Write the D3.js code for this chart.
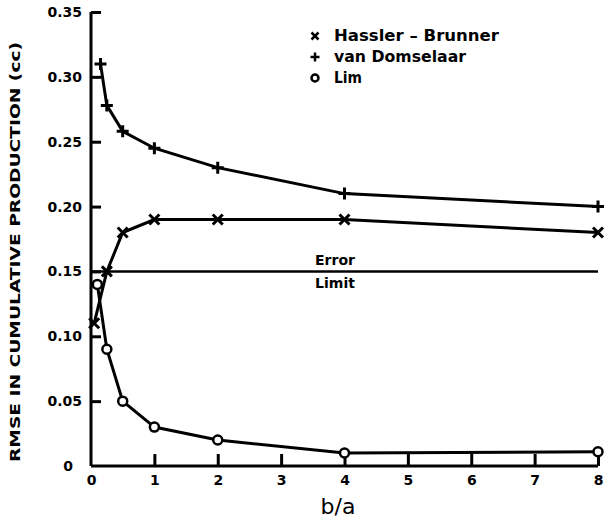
<!DOCTYPE html>
<html>
<head>
<meta charset="utf-8">
<script src="https://cdn.jsdelivr.net/npm/d3@7"></script>
<style>
  body { margin: 0; background: #fff; }
  text { font-family: "DejaVu Sans", sans-serif; font-weight: bold; fill: #000; }
</style>
</head>
<body>
<div id="chart"></div>
<script>
// valeurs
const xHassler = [0.05, 0.25, 0.5, 1, 2, 4, 8];
const yHassler = [0.11, 0.15, 0.18, 0.19, 0.19, 0.19, 0.18];
const xDomselaar = [0.15, 0.25, 0.5, 1, 2, 4, 8];
const yDomselaar = [0.31, 0.278, 0.258, 0.245, 0.23, 0.21, 0.20];
const xLim = [0.1, 0.25, 0.5, 1, 2, 4, 8];
const yLim = [0.14, 0.09, 0.05, 0.03, 0.02, 0.01, 0.011];
const errorLimit = 0.15;
const xTicks = [0, 1, 2, 3, 4, 5, 6, 7, 8];
const yTicks = [0, 0.05, 0.10, 0.15, 0.20, 0.25, 0.30, 0.35];
const legendNames = ["Hassler \u2013 Brunner", "van Domselaar", "Lim"];

const width = 605, height = 520;

const x = d3.scaleLinear().domain([0, 8]).range([91, 598]);
const y = d3.scaleLinear().domain([0, 0.35]).range([466, 12]);

const svg = d3.select("#chart").append("svg")
    .attr("width", width)
    .attr("height", height);

const zip = (xs, ys) => xs.map((v, i) => ({ x: v, y: ys[i] }));
const line = d3.line().x(d => x(d.x)).y(d => y(d.y));

// axes
const yAxis = svg.append("g")
    .attr("transform", `translate(${x(0)},0)`)
    .call(d3.axisLeft(y).tickValues(yTicks).tickSize(-10).tickPadding(9)
        .tickFormat(d => d === 0 ? "0" : d3.format(".2f")(d)));
yAxis.select(".domain").attr("d", `M0,${y(0.35)}V${y(0)}`);
yAxis.selectAll(".tick").filter(d => d === 0).select("line").remove();
yAxis.selectAll(".tick").filter(d => d === 0).select("text").attr("dx", -9);

const xAxis = svg.append("g")
    .attr("transform", `translate(0,${y(0)})`)
    .call(d3.axisBottom(x).tickValues(xTicks).tickSize(-12).tickPadding(9));
xAxis.select(".domain").attr("d", `M${x(0)},0H${x(8)}`);
xAxis.selectAll(".tick").filter(d => d === 0).select("line").remove();

svg.selectAll(".domain, .tick line")
    .attr("stroke", "#000")
    .attr("stroke-width", 3);
svg.selectAll(".tick text")
    .style("font-size", "14px");

// titres des axes
svg.append("text")
    .attr("transform", "translate(20,252) rotate(-90)")
    .attr("text-anchor", "middle")
    .attr("textLength", 420)
    .attr("lengthAdjust", "spacingAndGlyphs")
    .style("font-size", "14px")
    .text("RMSE IN CUMULATIVE PRODUCTION (cc)");

svg.append("text")
    .attr("x", 338)
    .attr("y", 514)
    .attr("text-anchor", "middle")
    .style("font-size", "22px")
    .style("font-weight", "normal")
    .text("b/a");

// limite d'erreur
svg.append("line")
    .attr("x1", x(0)).attr("x2", x(8))
    .attr("y1", y(errorLimit)).attr("y2", y(errorLimit))
    .attr("stroke", "#000")
    .attr("stroke-width", 2.5);

svg.append("text")
    .attr("x", 335).attr("y", y(errorLimit) - 6)
    .attr("text-anchor", "middle")
    .style("font-size", "14px")
    .text("Error");
svg.append("text")
    .attr("x", 335).attr("y", y(errorLimit) + 17)
    .attr("text-anchor", "middle")
    .style("font-size", "14px")
    .text("Limit");

// courbes
const series = [zip(xHassler, yHassler), zip(xDomselaar, yDomselaar), zip(xLim, yLim)];
series.forEach(s => {
    svg.append("path")
        .datum(s)
        .attr("d", line)
        .attr("fill", "none")
        .attr("stroke", "#000")
        .attr("stroke-width", 3);
});

function drawMarker(g, type, cx, cy) {
    if (type === 0) {
        const r = 5;
        g.append("path")
            .attr("d", `M${cx - r},${cy - r}L${cx + r},${cy + r}M${cx - r},${cy + r}L${cx + r},${cy - r}`)
            .attr("stroke", "#000").attr("stroke-width", 3);
    } else if (type === 1) {
        const r = 6;
        g.append("path")
            .attr("d", `M${cx - r},${cy}H${cx + r}M${cx},${cy - r}V${cy + r}`)
            .attr("stroke", "#000").attr("stroke-width", 3);
    } else {
        g.append("circle")
            .attr("cx", cx).attr("cy", cy).attr("r", 4.5)
            .attr("fill", "#fff")
            .attr("stroke", "#000").attr("stroke-width", 2.5);
    }
}

const marks = svg.append("g");
series.forEach((s, k) => {
    s.forEach(d => drawMarker(marks, k, x(d.x), y(d.y)));
});

// légende
const legend = svg.append("g");
const legendWidths = [165, 132, 28];
legendNames.forEach((name, k) => {
    const ly = 36 + k * 21;
    if (k === 0) {
        const r = 3.5;
        legend.append("path")
            .attr("d", `M${315 - r},${ly - r}L${315 + r},${ly + r}M${315 - r},${ly + r}L${315 + r},${ly - r}`)
            .attr("stroke", "#000").attr("stroke-width", 2.5);
    } else if (k === 1) {
        const r = 4.5;
        legend.append("path")
            .attr("d", `M${315 - r},${ly}H${315 + r}M${315},${ly - r}V${ly + r}`)
            .attr("stroke", "#000").attr("stroke-width", 2.5);
    } else {
        legend.append("circle")
            .attr("cx", 315).attr("cy", ly).attr("r", 3.5)
            .attr("fill", "#fff").attr("stroke", "#000").attr("stroke-width", 2.5);
    }
    legend.append("text")
        .attr("x", 334).attr("y", ly)
        .attr("dy", "0.35em")
        .attr("textLength", legendWidths[k])
        .attr("lengthAdjust", "spacingAndGlyphs")
        .style("font-size", "15px")
        .text(name);
});
</script>
</body>
</html>
